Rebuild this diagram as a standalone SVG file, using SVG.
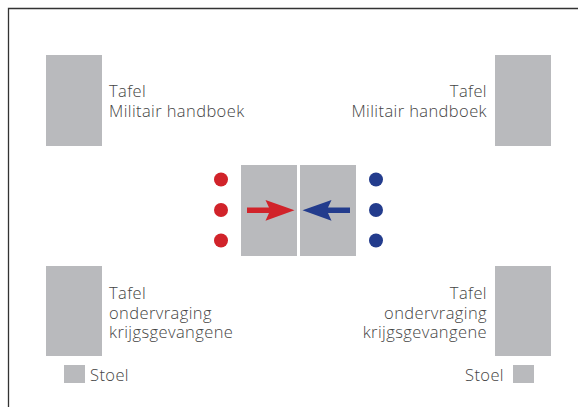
<svg xmlns="http://www.w3.org/2000/svg" width="578" height="407" viewBox="0 0 578 407">
<style>
.t{fill:#b9babd}
.lbl{font-family:"Open Sans","Liberation Sans",sans-serif;font-size:16.5px;letter-spacing:0.4px;fill:#444;font-weight:300}
.r{text-anchor:end}
.red{fill:#d1232a}
.blue{fill:#233c8d}
</style>
<rect width="578" height="407" fill="#fff"/>
<path d="M8.5 407V8.5H578" fill="none" stroke="#333" stroke-width="1.3"/>
<g id="tafel-lb">
<rect class="t" x="46" y="55" width="56" height="91"/>
<text class="lbl" x="109" y="97">Tafel</text>
<text class="lbl" x="109" y="117">Militair handboek</text>
</g>
<g id="tafel-rb">
<rect class="t" x="495" y="55" width="56" height="91"/>
<text class="lbl r" x="487" y="97">Tafel</text>
<text class="lbl r" x="487" y="117">Militair handboek</text>
</g>
<g id="tafel-lo">
<rect class="t" x="46" y="266" width="56" height="90"/>
<text class="lbl" x="109" y="299">Tafel</text>
<text class="lbl" x="109" y="318.5">ondervraging</text>
<text class="lbl" x="109" y="338">krijgsgevangene</text>
</g>
<g id="tafel-ro">
<rect class="t" x="495" y="266" width="56" height="90"/>
<text class="lbl r" x="487" y="299">Tafel</text>
<text class="lbl r" x="487" y="318.5">ondervraging</text>
<text class="lbl r" x="487" y="338">krijgsgevangene</text>
</g>
<g id="stoel-l">
<rect class="t" x="64" y="365" width="21" height="18"/>
<text class="lbl" x="90" y="381">Stoel</text>
</g>
<g id="stoel-r">
<rect class="t" x="513" y="365" width="21" height="18"/>
<text class="lbl r" x="504" y="381">Stoel</text>
</g>
<g id="tafel-midden">
<rect class="t" x="241" y="165" width="56" height="91"/>
<rect class="t" x="300" y="165" width="56" height="91"/>
</g>
<g id="rood">
<circle class="red" cx="221" cy="179.5" r="7"/>
<circle class="red" cx="221" cy="210" r="7"/>
<circle class="red" cx="221" cy="240.5" r="7"/>
</g>
<g id="blauw">
<circle class="blue" cx="376" cy="179.5" r="7"/>
<circle class="blue" cx="376" cy="210" r="7"/>
<circle class="blue" cx="376" cy="240.5" r="7"/>
</g>
<g id="connectors">
<path class="red" d="M247 207.6H269L265.5 200L294.5 210.3L265.5 220.8L269 213H247Z"/>
<path class="blue" d="M350 207.6H328L331.5 200L302.5 210.3L331.5 220.8L328 213H350Z"/>
</g>
</svg>
